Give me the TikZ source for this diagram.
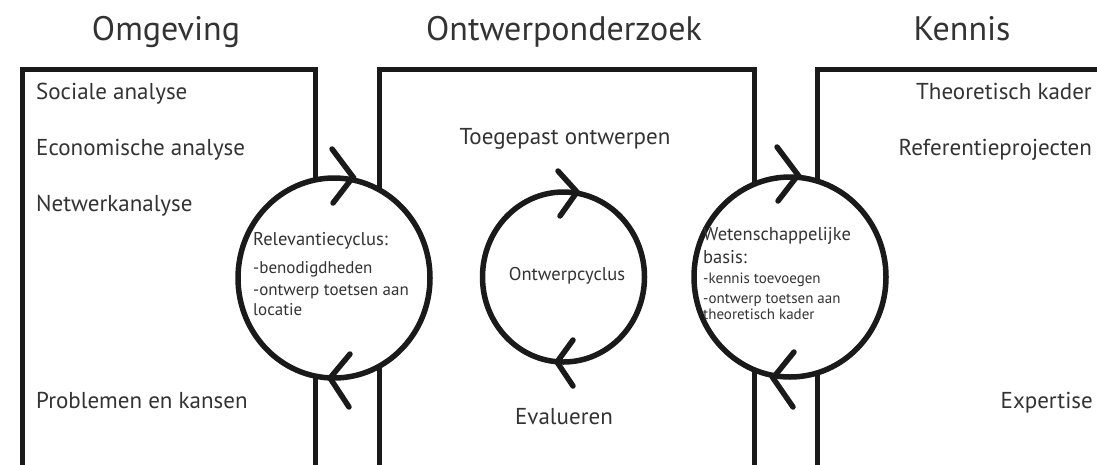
\documentclass[tikz,border=0pt]{standalone}
\usepackage{fontspec}
\setmainfont{PT Sans}
\usetikzlibrary{shapes.geometric}
\definecolor{txt}{HTML}{333333}
\definecolor{ink}{HTML}{1A1A1A}
\begin{document}
\begin{tikzpicture}[x=1pt,y=-1pt,
  box/.style={draw=ink,line width=5pt,rectangle,anchor=north west,inner sep=0pt,minimum height=440pt},
  cyc/.style={draw=ink,fill=white,line width=5.5pt,ellipse,inner sep=0pt},
  chev/.style={draw=ink,line width=5.5pt,line cap=round,line join=miter},
  ttl/.style={text=txt,font=\fontsize{34}{38}\selectfont,inner sep=0pt,anchor=base},
  lbl/.style={text=txt,font=\fontsize{23}{26}\selectfont,inner sep=0pt},
  ctl/.style={text=txt,font=\fontsize{18.5}{22}\selectfont,inner sep=0pt,anchor=base west},
  csm/.style={text=txt,font=\fontsize{17}{20}\selectfont,inner sep=0pt,anchor=base west},
  cxs/.style={text=txt,font=\fontsize{15}{18}\selectfont,inner sep=0pt,anchor=base west}
]
\useasboundingbox (0,0) rectangle (1097,464);
\clip (0,0) rectangle (1097,464);
\fill[white] (0,0) rectangle (1097,464);

% titles
\node[ttl] (tOmg) at (166,40) {Omgeving};
\node[ttl] (tOnt) at (564,40) {Ontwerponderzoek};
\node[ttl] (tKen) at (962,40) {Kennis};

% boxes
\node[box,minimum width=293pt] (omg) at (20,67) {};
\node[box,minimum width=375pt] (ont) at (377,67) {};
\node[box,minimum width=400pt] (ken) at (815,67) {};

% left box labels
\node[lbl,anchor=base west] (l1) at (36,99) {Sociale analyse};
\node[lbl,anchor=base west] (l2) at (36,155) {Economische analyse};
\node[lbl,anchor=base west] (l3) at (36,211) {Netwerkanalyse};
\node[lbl,anchor=base west] (l4) at (36,408) {Problemen en kansen};

% right box labels
\node[lbl,anchor=base east] (r1) at (1092,99) {Theoretisch kader};
\node[lbl,anchor=base east] (r2) at (1092,155) {Referentieprojecten};
\node[lbl,anchor=base east] (r3) at (1093,408) {Expertise};

% middle labels
\node[lbl,anchor=base] (m1) at (565,144) {Toegepast ontwerpen};
\node[lbl,anchor=base] (m2) at (564,424) {Evalueren};

% cycles
\node[cyc,minimum width=192pt,minimum height=200pt] (rel) at (334,278) {};
\node[cyc,minimum width=162pt,minimum height=170pt] (ow) at (563.5,277) {};
\node[cyc,minimum width=192pt,minimum height=200pt] (wet) at (790,277) {};

% chevrons (arrowheads on cycles)
\coordinate (relT) at (353,177);
\coordinate (relB) at (330,378);
\coordinate (owT) at (577,192);
\coordinate (owB) at (557,362);
\coordinate (wetT) at (798,175);
\coordinate (wetB) at (773,378);
\draw[chev] ([shift={(-21,-28)}]relT) -- (relT) -- ([shift={(-20,26)}]relT);
\draw[chev] ([shift={(20,-24)}]relB) -- (relB) -- ([shift={(19,29)}]relB);
\draw[chev] ([shift={(-19,-21)}]owT) -- (owT) -- ([shift={(-17,24)}]owT);
\draw[chev] ([shift={(16,-22)}]owB) -- (owB) -- ([shift={(16,24)}]owB);
\draw[chev] ([shift={(-21,-28)}]wetT) -- (wetT) -- ([shift={(-20,26)}]wetT);
\draw[chev] ([shift={(21,-26)}]wetB) -- (wetB) -- ([shift={(20,29)}]wetB);

% cycle texts
\node[ctl] (c1) at (253,245) {Relevantiecyclus:};
\node[csm] (c2) at (253,273) {-benodigdheden};
\node[csm] (c3) at (253,295) {-ontwerp toetsen aan};
\node[csm] (c4) at (253,315) {locatie};

\node[ctl,anchor=base] (o1) at (567,280) {Ontwerpcyclus};

\node[ctl] (w1) at (703,240) {Wetenschappelijke};
\node[ctl] (w2) at (703,263) {basis:};
\node[cxs] (w3) at (703,283) {-kennis toevoegen};
\node[cxs] (w4) at (703,303) {-ontwerp toetsen aan};
\node[cxs] (w5) at (703,319) {theoretisch kader};
\end{tikzpicture}
\end{document}
